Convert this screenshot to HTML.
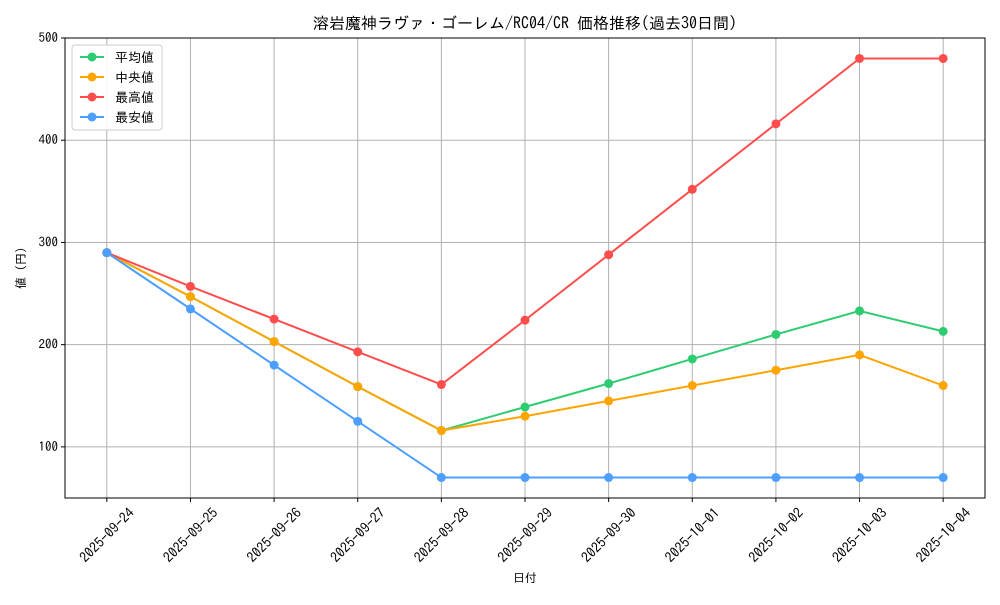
<!DOCTYPE html>
<html><head><meta charset="utf-8">
<style>
body{margin:0;background:#fff;}
svg{font-family:"IPAGothic","Noto Sans CJK JP",monospace;}
</style></head>
<body>
<svg id="chart" width="1000" height="600">
<rect x="0" y="0" width="1000" height="600" fill="#fff"/>
<text x="525" y="29" text-anchor="middle" font-size="16" fill="#000">溶岩魔神ラヴァ・ゴーレム/RC04/CR 価格推移(過去30日間)</text>
<g id="grid"></g>
<g id="axes"></g>
<g id="series"></g>
<text x="525" y="582" text-anchor="middle" font-size="12">日付</text>
<text transform="translate(25,268) rotate(-90)" text-anchor="middle" font-size="12">値 (円)</text>
<g id="legend"></g>
</svg>
<script>
const categories=["2025-09-24","2025-09-25","2025-09-26","2025-09-27","2025-09-28","2025-09-29","2025-09-30","2025-10-01","2025-10-02","2025-10-03","2025-10-04"];
const avgValues=[290,247,203,159,116,139,162,186,210,233,213];
const medianValues=[290,247,203,159,116,130,145,160,175,190,160];
const maxValues=[290,257,225,193,161,224,288,352,416,480,480];
const minValues=[290,235,180,125,70,70,70,70,70,70,70];
const yTicks=[100,200,300,400,500];
const seriesNames=["平均値","中央値","最高値","最安値"];
const seriesColors=["#2ecc71","#ffa500","#ff4d4d","#4d9fff"];
const seriesData=[avgValues,medianValues,maxValues,minValues];
const seriesKeys=["average","median","max","min"];

const L=65,R=985,T=38,B=498,yMin=50,yMax=500,xMin=-0.5,xMax=10.5;
const X=i=>L+(i-xMin)/(xMax-xMin)*(R-L);
const Y=v=>B-(v-yMin)/(yMax-yMin)*(B-T);
const NS="http://www.w3.org/2000/svg";
function mk(tag,attrs,parent){const e=document.createElementNS(NS,tag);for(const k in attrs)e.setAttribute(k,attrs[k]);parent.appendChild(e);return e;}
const grid=document.getElementById('grid'),axes=document.getElementById('axes'),ser=document.getElementById('series'),leg=document.getElementById('legend');

categories.forEach((c,i)=>{
  const x=X(i);
  const g=mk('line',{x1:x,x2:x,y1:T,y2:B,stroke:'#b0b0b0','stroke-width':1},grid);
  
  
  mk('line',{x1:x,x2:x,y1:B,y2:B+4,stroke:'#000'},axes);
  const t=mk('text',{x:0,y:5,'font-size':14,'text-anchor':'middle',transform:`translate(${x},${B+37}) rotate(-45)`},axes);
  t.textContent=c;
  
  
});
yTicks.forEach(v=>{
  const y=Y(v);
  const g=mk('line',{x1:L,x2:R,y1:y,y2:y,stroke:'#b0b0b0','stroke-width':1},grid);
  
  
  mk('line',{x1:L-4,x2:L,y1:y,y2:y,stroke:'#000'},axes);
  const t=mk('text',{x:L-7,y:y+4,'font-size':13,'text-anchor':'end'},axes);
  t.textContent=v;
  
  
});
const frame=mk('rect',{x:L,y:T,width:R-L,height:B-T,fill:'none',stroke:'#000','stroke-width':1},axes);



seriesData.forEach((d,s)=>{
  const g=mk('g',{},ser);
  
  
  const pts=d.map((v,i)=>X(i)+','+Y(v)).join(' ');
  const pl=mk('polyline',{points:pts,fill:'none',stroke:seriesColors[s],'stroke-width':2},g);
  
  
  d.forEach((v,i)=>{
    const c=mk('circle',{cx:X(i),cy:Y(v),r:4.5,fill:seriesColors[s]},g);
    
    
  });
});

const box=mk('rect',{x:72,y:45,width:90,height:85,rx:3,fill:'#fff','fill-opacity':0.85,stroke:'#ccc'},leg);


seriesNames.forEach((n,s)=>{
  const y=57+s*20;
  const g=mk('g',{},leg);
  
  
  mk('line',{x1:80,x2:104,y1:y,y2:y,stroke:seriesColors[s],'stroke-width':2},g);
  mk('circle',{cx:92,cy:y,r:4.5,fill:seriesColors[s]},g);
  const t=mk('text',{x:115,y:y+5,'font-size':13},g);
  t.textContent=n;
});
</script>
</body></html>
